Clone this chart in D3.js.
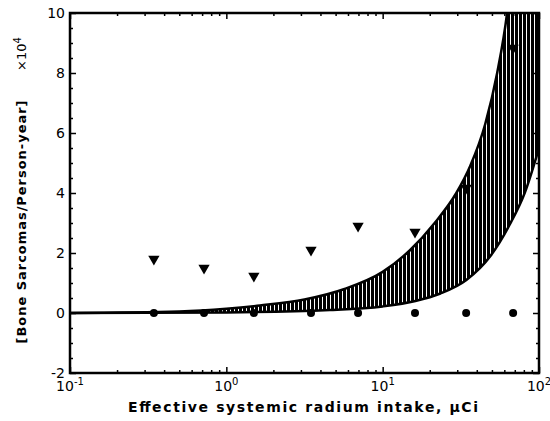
<!DOCTYPE html>
<html>
<head>
<meta charset="utf-8">
<script src="https://cdn.jsdelivr.net/npm/d3@7"></script>
<style>
  body { margin: 0; background: #fff; }
  text { font-family: "DejaVu Sans", sans-serif; fill: #000; }
</style>
</head>
<body>
<svg id="chart" width="550" height="421"></svg>
<script>
// measured points (dose in uCi, rate x10^4)
var dose = [0.344, 0.72, 1.5, 3.48, 6.96, 16.1, 34.2, 68.3];
var upperRate = [1.8, 1.5, 1.23, 2.1, 2.9, 2.7, 4.17, 8.83];
var observedRate = [0, 0, 0, 0, 0, 0, 0, 0];

// shaded band edges (top edge runs past the frame and gets clipped)
var bandTopDose = [0.1, 0.5, 1, 1.64, 3.16, 5.7, 10, 15, 21.5, 29.6, 36.3, 45.3, 54, 62.5, 70, 100];
var bandTopRate = [0, 0.05, 0.14, 0.25, 0.45, 0.8, 1.37, 2.1, 3.0, 4.0, 4.9, 6.3, 8.0, 10, 12.5, 16];
var bandLowDose = [0.1, 1, 4.6, 10, 16.2, 23.4, 34.3, 48.9, 65, 81, 100];
var bandLowRate = [0, 0.02, 0.1, 0.22, 0.4, 0.65, 1.1, 1.9, 2.95, 4.0, 5.5];

var yTicks = [-2, 0, 2, 4, 6, 8, 10];
var yTickLabels = ['-2', '0', '2', '4', '6', '8', '10'];
var xTicks = [0.1, 1, 10, 100];
var xTickExp = ['-1', '0', '1', '2'];

var svg = d3.select('#chart');
var pL = 70, pR = 539, pT = 13, pB = 373;

var x = d3.scaleLog().domain([0.1, 100]).range([pL, pR]);
var y = d3.scaleLinear().domain([-2, 10]).range([pB, pT]);

var defs = svg.append('defs');
var pat = defs.append('pattern')
    .attr('id', 'hatch')
    .attr('patternUnits', 'userSpaceOnUse')
    .attr('width', 4).attr('height', 4);
pat.append('rect').attr('width', 4).attr('height', 4).attr('fill', '#000');
pat.append('rect').attr('x', 2).attr('width', 1).attr('height', 4).attr('fill', '#fff');

defs.append('clipPath').attr('id', 'plot')
  .append('rect')
    .attr('x', pL).attr('y', pT)
    .attr('width', pR - pL).attr('height', pB - pT);

//band
var line = d3.line()
    .x(function(d){ return x(d[0]); })
    .y(function(d){ return y(d[1]); })
    .curve(d3.curveMonotoneX);

var topPts = bandTopDose.map(function(d, i){ return [d, bandTopRate[i]]; });
var lowPts = bandLowDose.map(function(d, i){ return [d, bandLowRate[i]]; });
var lowRev = lowPts.slice().reverse();

var bandPath = line(topPts) + 'L' + line(lowRev).slice(1) + 'Z';

var plot = svg.append('g').attr('clip-path', 'url(#plot)');

plot.append('path')
    .attr('d', bandPath)
    .attr('fill', 'url(#hatch)')
    .attr('stroke', 'none');

plot.append('path')
    .attr('d', line(topPts))
    .attr('fill', 'none')
    .attr('stroke', '#000')
    .attr('stroke-width', 2.5);

plot.append('path')
    .attr('d', line(lowPts))
    .attr('fill', 'none')
    .attr('stroke', '#000')
    .attr('stroke-width', 2.5);

//frame
svg.append('rect')
    .attr('x', pL).attr('y', pT)
    .attr('width', pR - pL).attr('height', pB - pT)
    .attr('fill', 'none')
    .attr('stroke', '#000')
    .attr('stroke-width', 2.5);

// ticks
var yMinor = d3.range(-2, 10.01, 0.5).filter(function(v){ return yTicks.indexOf(v) < 0; });
var xMinor = [];
[0.1, 1, 10].forEach(function(dec){
  for (var k = 2; k <= 9; k++) xMinor.push(k * dec);
});

function ticks(axis, tx, ty, vals, size){
  var g = svg.append('g')
      .attr('transform', 'translate(' + tx + ',' + ty + ')')
      .call(axis.tickValues(vals).tickSize(size).tickFormat(''));
  g.select('.domain').remove();
  g.selectAll('line').attr('stroke', '#000').attr('stroke-width', 1.5);
}

ticks(d3.axisLeft(y), pL, 0, yTicks, -6);
ticks(d3.axisLeft(y), pL, 0, yMinor, -3);
ticks(d3.axisRight(y), pR, 0, yTicks, -6);
ticks(d3.axisRight(y), pR, 0, yMinor, -3);
ticks(d3.axisBottom(x), 0, pB, xTicks, -6);
ticks(d3.axisBottom(x), 0, pB, xMinor, -3);
ticks(d3.axisTop(x), 0, pT, xTicks, -6);
ticks(d3.axisTop(x), 0, pT, xMinor, -3);

//tick labels
svg.append('g').selectAll('text')
    .data(yTicks)
  .enter().append('text')
    .attr('x', pL - 5)
    .attr('y', function(d){ return y(d); })
    .attr('dy', '0.36em')
    .attr('text-anchor', 'end')
    .style('font-size', '14px')
    .text(function(d, i){ return yTickLabels[i]; });

var xl = svg.append('g').selectAll('text')
    .data(xTicks)
  .enter().append('text')
    .attr('x', function(d){ return x(d); })
    .attr('y', 391)
    .attr('text-anchor', 'middle')
    .style('font-size', '14px');
xl.append('tspan').text('10');
xl.append('tspan')
    .attr('dy', -6)
    .style('font-size', '10px')
    .text(function(d, i){ return xTickExp[i]; });

//points
svg.append('g').selectAll('path')
    .data(dose)
  .enter().append('path')
    .attr('d', d3.symbol().type(d3.symbolTriangle).size(55))
    .attr('transform', function(d, i){
      return 'translate(' + x(d) + ',' + y(upperRate[i]) + ') rotate(180)';
    })
    .attr('fill', '#000');

svg.append('g').selectAll('circle')
    .data(dose)
  .enter().append('circle')
    .attr('cx', function(d){ return x(d); })
    .attr('cy', function(d, i){ return y(observedRate[i]); })
    .attr('r', 4)
    .attr('fill', '#000');

//axis titles
svg.append('text')
    .attr('x', 303)
    .attr('y', 412)
    .attr('text-anchor', 'middle')
    .attr('textLength', 350)
    .attr('lengthAdjust', 'spacing')
    .style('font-size', '14px')
    .style('font-weight', 'bold')
    .text('Effective systemic radium intake, \u03bcCi');

svg.append('text')
    .attr('transform', 'translate(26,222) rotate(-90)')
    .attr('text-anchor', 'middle')
    .attr('textLength', 243)
    .attr('lengthAdjust', 'spacing')
    .style('font-size', '13px')
    .style('font-weight', 'bold')
    .text('[Bone Sarcomas/Person-year]');

var mult = svg.append('text')
    .attr('transform', 'translate(26,54) rotate(-90)')
    .attr('text-anchor', 'middle')
    .style('font-size', '13px');
mult.append('tspan').text('\u00d710');
mult.append('tspan')
    .attr('dy', -5)
    .style('font-size', '10px')
    .text('4');
</script>
</body>
</html>
